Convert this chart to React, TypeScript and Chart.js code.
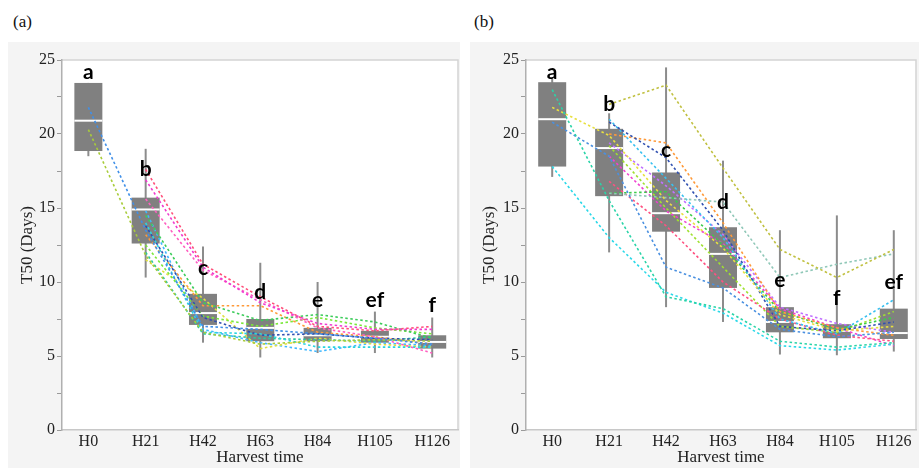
import React, { useEffect, useRef } from "react";
import { Chart, registerables } from "chart.js";
Chart.register(...registerables);

const categories = ["H0", "H21", "H42", "H63", "H84", "H105", "H126"];

// Panel (a) box statistics
const aMin = [18.5, 10.3, 5.9, 4.9, 5.2, 5.2, 4.9];
const aQ1 = [18.85, 12.6, 7.1, 6.0, 6.0, 5.9, 5.5];
const aMed = [20.9, 14.9, 7.9, 6.9, 6.4, 6.3, 5.95];
const aQ3 = [23.45, 15.7, 9.2, 7.5, 6.9, 6.7, 6.4];
const aMax = [23.45, 19.0, 12.4, 11.3, 10.0, 8.0, 7.6];
const aLetters = ["a", "b", "c", "d", "e", "ef", "f"];
const aLetterAt = [24.2, 17.6, 10.9, 9.3, 8.8, 8.8, 8.4];

// Panel (b) box statistics
const bMin = [17.1, 12.0, 8.3, 7.3, 5.1, 5.05, 5.3];
const bQ1 = [17.8, 15.8, 13.4, 9.6, 6.6, 6.2, 6.15];
const bMed = [21.0, 19.05, 14.65, 11.9, 7.3, 6.7, 6.55];
const bQ3 = [23.5, 20.35, 17.4, 13.7, 8.3, 7.15, 8.2];
const bMax = [23.85, 21.4, 24.5, 18.2, 13.5, 14.5, 13.5];
const bLetters = ["a", "b", "c", "d", "e", "f", "ef"];
const bLetterAt = [24.2, 22.0, 18.9, 15.4, 10.1, 8.9, 10.0];

// Panel (a) individual lines
const aLine1 = [21.8, 13.5, 7.0, 6.8, 6.5, 6.2, 5.8];
const aLine2 = [20.3, 11.8, 6.6, 5.8, 6.0, 6.1, 6.0];
const aLine3 = [null, 17.6, 11.2, 9.0, 7.0, 6.7, 7.0];
const aLine4 = [null, 16.9, 11.0, 8.6, 7.2, 6.8, 6.8];
const aLine5 = [null, 15.6, 10.8, 8.8, 6.9, 6.3, 5.2];
const aLine6 = [null, 14.5, 8.6, 7.4, 7.8, 7.3, 6.2];
const aLine7 = [null, 14.0, 6.6, 6.5, 5.6, 5.6, 5.6];
const aLine8 = [null, 13.8, 7.6, 6.4, 6.5, 6.2, 6.1];
const aLine9 = [null, 13.2, 8.4, 8.4, 6.6, 6.3, 5.8];
const aLine10 = [null, 12.5, 7.7, 7.0, 7.6, 6.9, 6.5];
const aLine11 = [null, 12.0, 6.5, 6.2, 6.1, 6.0, 6.3];
const aLine12 = [null, 11.5, 8.9, 5.5, 6.2, 5.8, 5.6];
const aLine13 = [null, 14.8, 6.8, 5.9, 5.3, 5.9, 5.7];

// Panel (b) individual lines
const bLine1 = [23.0, 15.5, 9.0, 8.2, 6.0, 5.6, 5.9];
const bLine2 = [21.8, 19.9, 15.5, 12.3, 7.8, 6.7, 7.0];
const bLine3 = [20.8, 18.5, 11.0, 9.6, 6.8, 6.3, 6.6];
const bLine4 = [17.8, 13.0, 9.3, 7.9, 5.7, 5.4, 5.8];
const bLine5 = [null, 22.0, 23.3, 17.7, 12.2, 10.3, 12.2];
const bLine6 = [null, 16.0, 15.7, 15.4, 10.3, 11.2, 11.9];
const bLine7 = [null, 20.8, 18.4, 13.5, 7.0, 6.7, 7.3];
const bLine8 = [null, 20.0, 19.4, 14.0, 8.0, 6.9, 6.4];
const bLine9 = [null, 21.0, 17.0, 13.0, 7.5, 6.5, 8.8];
const bLine10 = [null, 16.0, 16.1, 12.5, 8.0, 6.8, 7.6];
const bLine11 = [null, 16.8, 13.8, 10.0, 7.5, 6.4, 6.0];
const bLine12 = [null, 18.5, 14.8, 12.6, 8.2, 6.9, 5.7];
const bLine13 = [null, 19.4, 16.5, 13.2, 8.3, 7.2, 6.6];
const bLine14 = [null, 19.2, 15.0, 11.0, 7.0, 6.6, 8.0];

const aLines = [aLine1, aLine2, aLine3, aLine4, aLine5, aLine6, aLine7, aLine8, aLine9, aLine10, aLine11, aLine12, aLine13];
const aColors = ["#3f8fe8", "#a8cc3a", "#ff4f7a", "#f03ad0", "#ff5fc0", "#3ccc5a", "#2ad4e0", "#3050b0", "#ff9a3a", "#7ae83a", "#2ac8a0", "#e0e040", "#40b8ff"];
const bLines = [bLine1, bLine2, bLine3, bLine4, bLine5, bLine6, bLine7, bLine8, bLine9, bLine10, bLine11, bLine12, bLine13, bLine14];
const bColors = ["#2ad4a8", "#e8e040", "#4a90e0", "#2ad8e8", "#c0c040", "#90c8b8", "#3050b0", "#ff9a3a", "#38c0f0", "#3ccc4a", "#ff5080", "#f040d0", "#c070ff", "#a0e030"];

const SERIF = "'Liberation Serif', 'DejaVu Serif', serif";

const boxPlugin = {
  id: "boxes",
  beforeDraw(chart: any) {
    const { ctx, chartArea: ca, width, height } = chart;
    ctx.save();
    ctx.fillStyle = "#f4f4f4";
    ctx.fillRect(0, 0, width, height);
    ctx.fillStyle = "#ffffff";
    ctx.fillRect(ca.left, ca.top, ca.right - ca.left, ca.bottom - ca.top);
    ctx.strokeStyle = "#d4d4d4";
    ctx.lineWidth = 1.5;
    ctx.beginPath();
    ctx.moveTo(ca.left, ca.top);
    ctx.lineTo(ca.right, ca.top);
    ctx.lineTo(ca.right, ca.bottom);
    ctx.stroke();
    ctx.restore();
  },
  beforeDatasetsDraw(chart: any, _args: any, opts: any) {
    const { ctx } = chart;
    const xs = chart.scales.x;
    const ys = chart.scales.y;
    ctx.save();
    for (let i = 0; i < opts.med.length; i++) {
      const cx = xs.getPixelForValue(i);
      const half = 14;
      ctx.strokeStyle = "#8c8c8c";
      ctx.lineWidth = 2;
      ctx.beginPath();
      ctx.moveTo(cx, ys.getPixelForValue(opts.max[i]));
      ctx.lineTo(cx, ys.getPixelForValue(opts.min[i]));
      ctx.stroke();
      const top = ys.getPixelForValue(opts.q3[i]);
      const bot = ys.getPixelForValue(opts.q1[i]);
      ctx.fillStyle = "#808080";
      ctx.fillRect(cx - half, top, half * 2, bot - top);
      ctx.strokeStyle = "#ffffff";
      ctx.lineWidth = 2;
      const my = ys.getPixelForValue(opts.med[i]);
      ctx.beginPath();
      ctx.moveTo(cx - half, my);
      ctx.lineTo(cx + half, my);
      ctx.stroke();
    }
    ctx.restore();
  },
  afterDatasetsDraw(chart: any, _args: any, opts: any) {
    const { ctx } = chart;
    const xs = chart.scales.x;
    const ys = chart.scales.y;
    ctx.save();
    ctx.fillStyle = "#000";
    ctx.font = "bold 21px 'Lato', 'Liberation Sans', sans-serif";
    ctx.textAlign = "center";
    ctx.textBaseline = "middle";
    for (let i = 0; i < opts.letters.length; i++) {
      ctx.fillText(opts.letters[i], xs.getPixelForValue(i), ys.getPixelForValue(opts.letterAt[i]));
    }
    ctx.restore();
  },
};

type PanelProps = {
  width: number;
  height: number;
  yWidth: number;
  padRight: number;
  xMax: number;
  lines: (number | null)[][];
  colors: string[];
  stats: any;
};

function Panel(p: PanelProps) {
  const ref = useRef<HTMLCanvasElement | null>(null);
  useEffect(() => {
    if (!ref.current) return;
    const datasets = p.lines.map((arr, k) => ({
      data: arr.map((v, i) => ({ x: i, y: v })),
      borderColor: p.colors[k],
      backgroundColor: p.colors[k],
      borderWidth: 1.6,
      borderDash: [2.5, 2.5],
      pointRadius: 0,
      fill: false,
      tension: 0,
      spanGaps: false,
    }));
    const chart = new Chart(ref.current, {
      type: "line",
      data: { datasets },
      plugins: [boxPlugin],
      options: {
        animation: false,
        responsive: false,
        events: [],
        layout: { padding: { top: 18, right: p.padRight, left: 0, bottom: 0 } },
        plugins: {
          legend: { display: false },
          tooltip: { enabled: false },
          boxes: p.stats,
        } as any,
        scales: {
          x: {
            type: "linear",
            min: -0.46,
            max: p.xMax,
            afterBuildTicks: (s: any) => {
              s.ticks = categories.map((_, i) => ({ value: i }));
            },
            afterFit: (s: any) => {
              s.height = 38;
            },
            grid: { display: false, drawTicks: false, tickLength: 0 },
            border: { display: true, color: "#c8c8c8", width: 1.5 },
            ticks: {
              padding: 2,
              color: "#222",
              font: { family: SERIF, size: 16 },
              maxRotation: 0,
              autoSkip: false,
              callback: (v: any) => categories[v as number] ?? "",
            },
            title: {
              display: true,
              text: "Harvest time",
              color: "#222",
              font: { family: SERIF, size: 17 },
              padding: { top: 0, bottom: 0 },
            },
          },
          y: {
            type: "linear",
            min: 0,
            max: 25,
            afterFit: (s: any) => {
              s.width = p.yWidth;
            },
            grid: { display: true, drawOnChartArea: false, drawTicks: true, tickLength: 5, color: "#9a9a9a" },
            border: { display: true, color: "#b0b0b0", width: 1.5 },
            ticks: {
              stepSize: 2.5,
              padding: 2,
              color: "#222",
              font: { family: SERIF, size: 16 },
              callback: (v: any) => ((v as number) % 5 === 0 ? String(v) : ""),
            },
            title: {
              display: true,
              text: "T50 (Days)",
              color: "#222",
              font: { family: SERIF, size: 17 },
              padding: { top: 9, bottom: 0 },
            },
          },
        },
      } as any,
    });
    return () => chart.destroy();
  }, []);
  return <canvas ref={ref} width={p.width} height={p.height} style={{ width: p.width, height: p.height, display: "block" }} />;
}

export default function App() {
  const labelStyle: React.CSSProperties = {
    position: "absolute",
    fontFamily: SERIF,
    fontSize: 17,
    color: "#111",
    lineHeight: "20px",
  };
  return (
    <div style={{ position: "absolute", left: 0, top: 0, width: 919, height: 468, background: "#fff", overflow: "hidden" }}>
      <div style={{ ...labelStyle, left: 13, top: 12 }}>(a)</div>
      <div style={{ ...labelStyle, left: 474, top: 12 }}>(b)</div>
      <div style={{ position: "absolute", left: 8, top: 42 }}>
        <Panel
          width={452}
          height={426}
          yWidth={54}
          padRight={2}
          xMax={6.45}
          lines={aLines}
          colors={aColors}
          stats={{ min: aMin, q1: aQ1, med: aMed, q3: aQ3, max: aMax, letters: aLetters, letterAt: aLetterAt }}
        />
      </div>
      <div style={{ position: "absolute", left: 470, top: 42 }}>
        <Panel
          width={449}
          height={426}
          yWidth={56}
          padRight={3}
          xMax={6.39}
          lines={bLines}
          colors={bColors}
          stats={{ min: bMin, q1: bQ1, med: bMed, q3: bQ3, max: bMax, letters: bLetters, letterAt: bLetterAt }}
        />
      </div>
    </div>
  );
}
